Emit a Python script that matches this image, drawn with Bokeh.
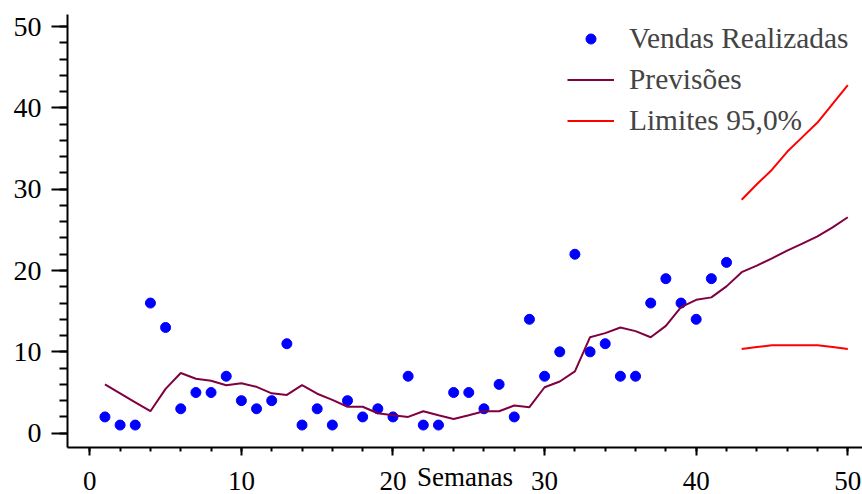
from bokeh.plotting import figure
from bokeh.models import SingleIntervalTicker, Range1d, Legend, LegendItem
from bokeh.embed import file_html
from bokeh.resources import INLINE

# Weekly sales, forecast and 95% forecast limits
semanas_vendas = list(range(1, 43))
vendas = [2, 1, 1, 16, 13, 3, 5, 5, 7, 4, 3, 4, 11, 1, 3, 1, 4, 2, 3, 2,
          7, 1, 1, 5, 5, 3, 6, 2, 14, 7, 10, 22, 10, 11, 7, 7, 16, 19, 16, 14,
          19, 21]

semanas_prev = list(range(1, 51))
previsoes = [6.0, 4.9, 3.8, 2.7, 5.45, 7.4, 6.7, 6.45, 5.9, 6.15,
             5.7, 4.9, 4.7, 5.9, 4.85, 4.1, 3.25, 3.25, 2.45, 2.2,
             2.0, 2.7, 2.2, 1.75, 2.2, 2.7, 2.7, 3.4, 3.2, 5.65,
             6.35, 7.6, 11.8, 12.3, 13.0, 12.55, 11.8, 13.2, 15.5, 16.4,
             16.7, 18.05, 19.8, 20.6, 21.5, 22.45, 23.3, 24.2, 25.3, 26.55]

semanas_lim = list(range(43, 51))
limite_sup = [28.7, 30.6, 32.4, 34.6, 36.4, 38.2, 40.5, 42.8]
limite_inf = [10.35, 10.6, 10.8, 10.8, 10.8, 10.8, 10.6, 10.35]

FONT = "'Liberation Serif'"

p = figure(frame_width=795, frame_height=433, output_backend="svg",
           toolbar_location=None,
           x_range=Range1d(-1.47, 50.97), y_range=Range1d(-1.76, 51.48),
           min_border_left=67, min_border_right=0, min_border_top=14,
           min_border_bottom=47)
p.outline_line_color = None
p.grid.grid_line_color = None
p.background_fill_color = "white"
p.border_fill_color = "white"

for ax, major_out, minor_out, size in ((p.xaxis[0], 8, 4, "27px"),
                                        (p.yaxis[0], 16, 8, "28px")):
    ax.ticker = SingleIntervalTicker(interval=10, num_minor_ticks=5)
    ax.axis_line_width = 2
    ax.axis_line_color = "black"
    ax.major_tick_line_width = 2
    ax.minor_tick_line_width = 2
    ax.major_tick_in = 0
    ax.minor_tick_in = 0
    ax.major_tick_out = major_out
    ax.minor_tick_out = minor_out
    ax.major_label_text_font = FONT
    ax.major_label_text_font_size = size
    ax.major_label_text_color = "black"
p.xaxis.major_label_standoff = 16
p.yaxis.major_label_standoff = 10

# axis title sits in the row of the tick labels, centred under the frame
p.xaxis.axis_label = "Semanas"
p.xaxis.axis_label_text_font = FONT
p.xaxis.axis_label_text_font_size = "27px"
p.xaxis.axis_label_text_font_style = "normal"
p.xaxis.axis_label_text_color = "black"
p.xaxis.axis_label_standoff = -31

r_vendas = p.scatter(semanas_vendas, vendas, size=10, color="#0000ff")
r_prev = p.line(semanas_prev, previsoes, line_color="#800040", line_width=2)
r_sup = p.line(semanas_lim, limite_sup, line_color="#ff0000", line_width=2)
p.line(semanas_lim, limite_inf, line_color="#ff0000", line_width=2)

legend = Legend(items=[
    LegendItem(label="Vendas Realizadas", renderers=[r_vendas]),
    LegendItem(label="Previsões", renderers=[r_prev]),
    LegendItem(label="Limites 95,0%", renderers=[r_sup]),
], location=(500, 310))
legend.border_line_color = None
legend.background_fill_alpha = 0
legend.label_text_font = FONT
legend.label_text_font_size = "29.4px"
legend.glyph_width = 47
legend.glyph_height = 25
legend.label_height = 33
legend.label_standoff = 15
legend.spacing = 8
legend.margin = 0
legend.padding = 4
p.add_layout(legend)

open("out.html", "w").write(file_html(p, INLINE))
